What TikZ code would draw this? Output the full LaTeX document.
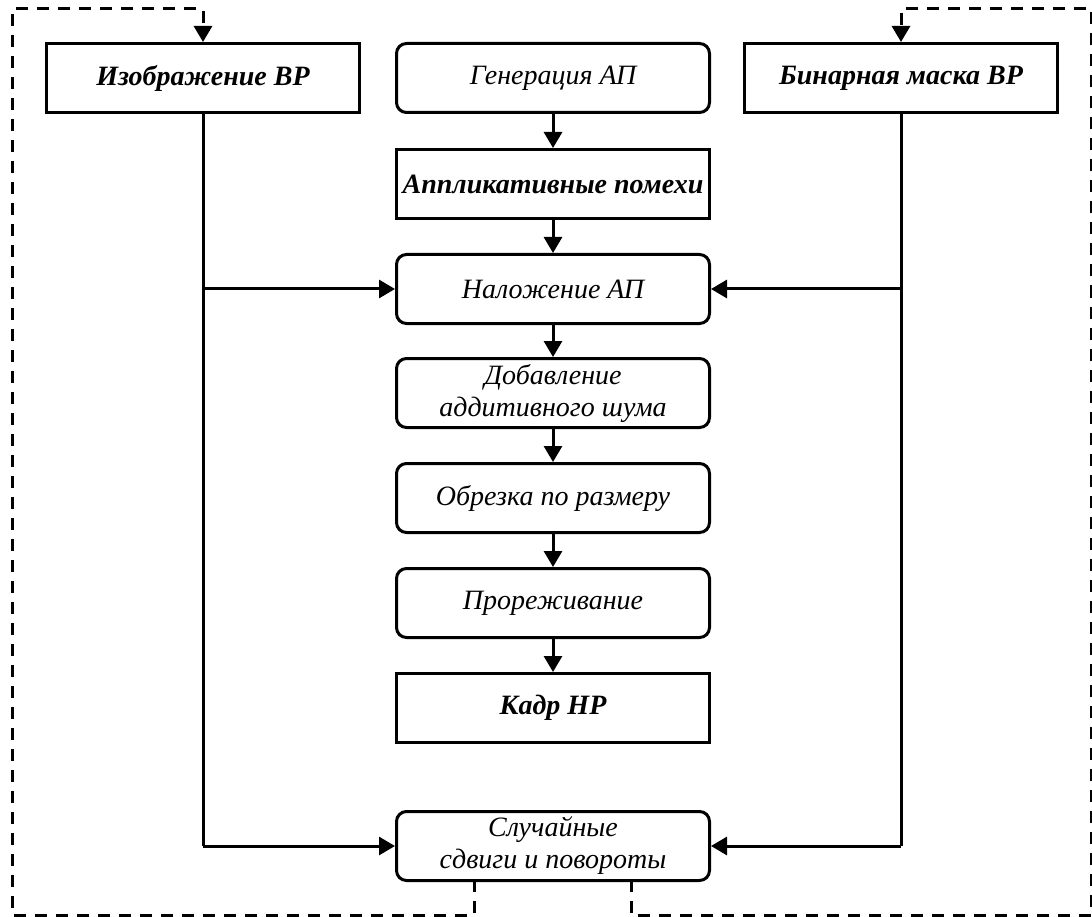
\documentclass[tikz,border=0pt]{standalone}
\usepackage{fontspec}
\setmainfont{Liberation Serif}
\usetikzlibrary{arrows.meta}
\begin{document}
\begin{tikzpicture}[x=1pt,y=-1pt,
  every node/.style={font=\fontsize{28}{32}\selectfont\itshape},
  procbox/.style={draw, line width=3pt, rounded corners=10pt, minimum width=313pt, minimum height=69pt, align=center, inner sep=0pt},
  databox/.style={draw, line width=3pt, minimum width=313pt, minimum height=69pt, align=center, inner sep=0pt, font=\fontsize{28}{32}\selectfont\bfseries\itshape},
  flow/.style={line width=3pt, -{Triangle[length=16pt,width=18pt]}},
  link/.style={line width=3pt},
  loop/.style={line width=3pt, dash pattern=on 12pt off 9pt, -{Triangle[length=16pt,width=18pt]}}]
\useasboundingbox (0,0) rectangle (1092,917);

% source data and generator row
\node[databox] (img)  at (203,78) {Изображение ВР};
\node[procbox] (gen)  at (553,78) {Генерация АП};
\node[databox] (mask) at (901,78) {Бинарная маска ВР};

% central processing chain
\node[databox] (app)  at (553,184) {Аппликативные помехи};
\node[procbox] (over) at (553,289) {Наложение АП};
\node[procbox] (noise) at (553,393) {Добавление\\аддитивного шума};
\node[procbox] (crop) at (553,498) {Обрезка по размеру};
\node[procbox] (thin) at (553,603) {Прореживание};
\node[databox] (frame) at (553,708) {Кадр НР};
\node[procbox] (rand) at (553,846) {Случайные\\сдвиги и повороты};

\draw[flow] (gen) -- (app);
\draw[flow] (app) -- (over);
\draw[flow] (over) -- (noise);
\draw[flow] (noise) -- (crop);
\draw[flow] (crop) -- (thin);
\draw[flow] (thin) -- (frame);

% side feeds
\coordinate (lj1) at (img.south |- over.west);
\coordinate (lj2) at (img.south |- rand.west);
\coordinate (rj1) at (mask.south |- over.east);
\coordinate (rj2) at (mask.south |- rand.east);
\draw[link] (img.south) -- (lj2);
\draw[link] (mask.south) -- (rj2);
\draw[flow] (lj1) -- (over.west);
\draw[flow] (lj2) -- (rand.west);
\draw[flow] (rj1) -- (over.east);
\draw[flow] (rj2) -- (rand.east);

% feedback loops
\coordinate (lb) at (474,880);
\coordinate (rb) at (631,880);
\draw[loop] (lb) -- (474,915) -- (12,915) -- (12,9) -- (203,9) -- (img.north);
\draw[loop] (rb) -- (631,915) -- (1091.5,915) -- (1091.5,9) -- (901,9) -- (mask.north);
\end{tikzpicture}
\end{document}
